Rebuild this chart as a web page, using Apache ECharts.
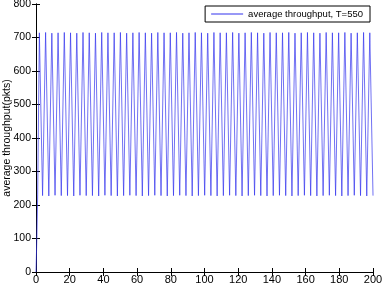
<!DOCTYPE html>
<html>
<head>
<meta charset="utf-8">
<script src="https://cdn.jsdelivr.net/npm/echarts@6/dist/echarts.min.js"></script>
<style>
html,body{margin:0;padding:0;background:#fff;}
#chart{width:385px;height:285px;}
</style>
</head>
<body>
<div id="chart"></div>
<script>
// sample times and measured average throughput (pkts)
var times = [0, 0.5, 1,
  2.0, 3.9, 5.7, 7.6, 9.4, 11.3, 13.1, 15.0, 16.8, 18.7, 20.5, 22.4, 24.2, 26.1, 27.9, 29.8,
  31.6, 33.5, 35.3, 37.2, 39.0, 40.9, 42.7, 44.6, 46.4, 48.3, 50.1, 52.0, 53.8, 55.7, 57.5, 59.4,
  61.2, 63.1, 64.9, 66.8, 68.6, 70.5, 72.3, 74.2, 76.0, 77.9, 79.7, 81.6, 83.4, 85.3, 87.1, 89.0,
  90.8, 92.7, 94.5, 96.4, 98.2, 100.1, 101.9, 103.8, 105.6, 107.5, 109.3, 111.2, 113.0, 114.9,
  116.7, 118.6, 120.4, 122.3, 124.1, 126.0, 127.8, 129.7, 131.5, 133.4, 135.2, 137.1, 138.9, 140.8,
  142.6, 144.5, 146.3, 148.2, 150.0, 151.9, 153.7, 155.6, 157.4, 159.3, 161.1, 163.0, 164.8, 166.7,
  168.5, 170.4, 172.2, 174.1, 175.9, 177.8, 179.6, 181.5, 183.3, 185.2, 187.0, 188.9, 190.7, 192.6,
  194.4, 196.3, 198.1, 200.0];
var throughput = [0, 100, 230,
  714, 228, 715, 227, 713, 229, 714, 228, 715, 228, 714, 227, 713, 229, 715, 228, 714, 228,
  713, 227, 715, 229, 714, 228, 714, 227, 715, 228, 713, 229, 714, 228, 715, 227, 714, 228,
  713, 229, 715, 228, 714, 227, 714, 228, 715, 229, 713, 228, 714, 227, 715, 228, 714, 229,
  713, 228, 715, 227, 714, 228, 714, 229, 715, 228, 713, 227, 714, 228, 715, 229, 714, 228,
  713, 227, 715, 228, 714, 229, 714, 228, 715, 227, 713, 228, 714, 229, 715, 228, 714, 227,
  713, 228, 715, 229, 714, 228, 714, 227, 715, 228, 713, 229, 714, 228, 715, 227, 714, 228];
var xTicks = [0, 20, 40, 60, 80, 100, 120, 140, 160, 180, 200];
var yTicks = [0, 100, 200, 300, 400, 500, 600, 700, 800];

var myChart = echarts.init(document.getElementById('chart'));

var points = [];
for (var i = 0; i < times.length; i++) {
    points.push([times[i], throughput[i]]);
}

var tickStyle = { show: true, inside: true, length: 4, lineStyle: { color: '#000', width: 1 } };
var lineStyle = { show: true, lineStyle: { color: '#000', width: 1 } };

option = {
    animation: false,
    backgroundColor: '#fff',
    grid: { left: 36, right: 12, top: 4, bottom: 13, containLabel: false, outerBoundsMode: 'none' },
    legend: {
        right: 15,
        top: 6,
        data: ['average throughput, T=550'],
        icon: 'rect',
        itemWidth: 32,
        itemHeight: 1,
        itemGap: 5,
        padding: [3, 7, 3, 6],
        borderColor: '#000',
        borderWidth: 1,
        borderRadius: 0,
        backgroundColor: '#fff',
        textStyle: { color: '#000', fontFamily: 'Arial, Liberation Sans', fontSize: 9.5 }
    },
    xAxis: [{
        type: 'value',
        min: xTicks[0],
        max: xTicks[xTicks.length - 1],
        interval: 20,
        axisLine: lineStyle,
        axisTick: tickStyle,
        splitLine: { show: false },
        axisLabel: { color: '#000', fontFamily: 'Arial, Liberation Sans', fontSize: 11, margin: 2 }
    }, {
        type: 'value',
        position: 'top',
        min: 0,
        max: 200,
        interval: 20,
        axisLine: lineStyle,
        axisTick: tickStyle,
        splitLine: { show: false },
        axisLabel: { show: false }
    }],
    yAxis: [{
        type: 'value',
        min: yTicks[0],
        max: yTicks[yTicks.length - 1],
        interval: 100,
        name: 'average throughput(pkts)',
        nameLocation: 'middle',
        nameGap: 23,
        nameMoveOverlap: false,
        nameTextStyle: { color: '#000', fontFamily: 'Arial, Liberation Sans', fontSize: 10.5 },
        axisLine: lineStyle,
        axisTick: tickStyle,
        splitLine: { show: false },
        axisLabel: { color: '#000', fontFamily: 'Arial, Liberation Sans', fontSize: 10.5, margin: 5 }
    }, {
        type: 'value',
        position: 'right',
        min: 0,
        max: 800,
        interval: 100,
        axisLine: lineStyle,
        axisTick: tickStyle,
        splitLine: { show: false },
        axisLabel: { show: false }
    }],
    series: [{
        name: 'average throughput, T=550',
        type: 'line',
        data: points,
        symbol: 'none',
        color: '#3333ee',
        lineStyle: { color: '#3333ee', width: 0.7 }
    }]
};
myChart.setOption(option);
</script>
</body>
</html>
